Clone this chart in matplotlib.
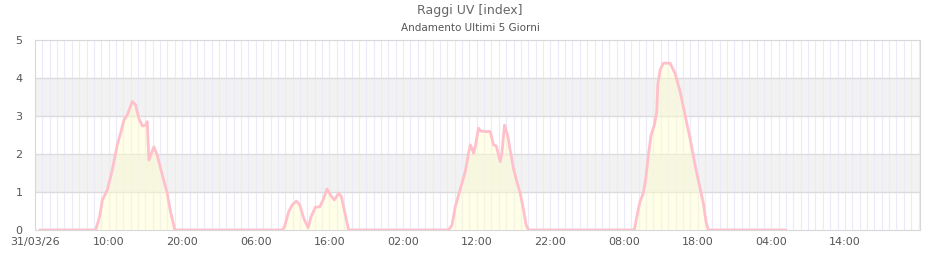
import matplotlib.pyplot as plt

# hours since 31/03/26 00:00 and UV index
hours = [0.7, 8.24, 8.78, 9.15, 9.82, 10.5, 11.18, 11.63, 12.08, 12.54, 13.22, 13.66,
         14.11, 14.57, 15.02, 15.25, 15.47, 16.15, 16.6, 17.29, 17.96, 18.41, 19.0,
         33.57, 33.9, 34.46, 34.93, 35.51, 35.96, 36.5, 37.1, 37.5, 38.08, 38.67,
         39.13, 39.67, 40.12, 40.66, 41.25, 41.61, 42.16, 42.6,
         56.17, 56.64, 57.08, 57.53, 57.99, 58.44, 58.89, 59.12, 59.35, 59.57, 59.8,
         60.24, 60.47, 61.15, 61.83, 62.28, 62.65, 63.19, 63.42, 63.77, 64.23, 64.54,
         64.99, 65.45, 65.9, 66.35, 66.71, 67.03,
         81.4, 81.87, 82.18, 82.63, 82.96, 83.31, 83.68, 84.12, 84.45, 84.59, 84.9,
         85.35, 86.26, 86.94, 87.62, 88.29, 88.97, 89.65, 90.33, 90.78, 91.14, 91.45,
         101.9]
uv = [0, 0, 0.35, 0.79, 1.05, 1.58, 2.24, 2.55, 2.89, 3.03, 3.38, 3.29,
      2.94, 2.74, 2.76, 2.85, 1.84, 2.19, 1.97, 1.45, 0.97, 0.48, 0.0,
      0, 0.09, 0.48, 0.66, 0.76, 0.66, 0.31, 0.06, 0.35, 0.6, 0.61,
      0.79, 1.08, 0.92, 0.79, 0.97, 0.88, 0.39, 0.0,
      0, 0.13, 0.61, 0.92, 1.23, 1.54, 2.02, 2.24, 2.15, 2.02, 2.19,
      2.68, 2.61, 2.59, 2.59, 2.24, 2.21, 1.80, 2.02, 2.76, 2.46, 2.1,
      1.62, 1.27, 0.97, 0.53, 0.13, 0.0,
      0, 0.48, 0.75, 0.97, 1.36, 1.97, 2.5, 2.76, 3.11, 3.82, 4.21,
      4.39, 4.39, 4.12, 3.64, 3.03, 2.41, 1.71, 1.10, 0.70, 0.22, 0.0,
      0]

tick_hours = list(range(0, 120, 10))
tick_labels = ['31/03/26', '10:00', '20:00', '06:00', '16:00', '02:00',
               '12:00', '22:00', '08:00', '18:00', '04:00', '14:00']

fig = plt.figure(figsize=(9.4, 2.6), dpi=100)
ax = fig.add_axes([0.0372, 0.1154, 0.9415, 0.7308])

# alternating bands
for lo in (1, 3):
    ax.axhspan(lo, lo + 1, color='#f2f2f2', zorder=0, lw=0)

# hourly vertical grid
for h in range(1, 121):
    ax.axvline(h, color='#ebeafa', lw=0.8, zorder=1)
for v in range(1, 5):
    ax.axhline(v, color='#dcdcdc', lw=1, zorder=1)

ax.fill_between(hours, uv, 0, color='#ffffcc', alpha=0.45, lw=0, zorder=2)
ax.plot(hours, uv, color='#ffc0cb', lw=2.0, zorder=3, solid_joinstyle='round')

ax.set_xlim(0, 120.2)
ax.set_ylim(0, 5)
ax.set_yticks(range(6))
ax.set_xticks(tick_hours)
ax.set_xticklabels(tick_labels)
ax.tick_params(length=0, labelsize=8, labelcolor='#555555')
ax.tick_params(axis='y', pad=9)
ax.tick_params(axis='x', pad=5)
for s in ax.spines.values():
    s.set_color('#d8d8d8')

fig.text(0.5, 0.96, 'Raggi UV [index]', ha='center', va='center', fontsize=9, color='#666666')
fig.text(0.5, 0.892, 'Andamento Ultimi 5 Giorni', ha='center', va='center', fontsize=7.5, color='#555555')

fig.savefig('out.png', dpi=100)
